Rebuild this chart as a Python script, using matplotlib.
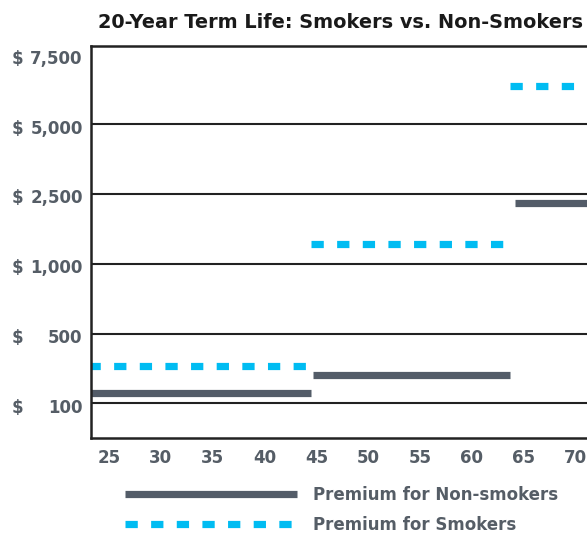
import numpy as np
import matplotlib
matplotlib.use("Agg")
import matplotlib.pyplot as plt
from matplotlib.transforms import blended_transform_factory, ScaledTranslation

# ---- data ----
tick_values = [100, 500, 1000, 2500, 5000, 7500]
tick_labels = ["100", "500", "1,000", "2,500", "5,000", "7,500"]
age_ticks = [25, 30, 35, 40, 45, 50, 55, 60, 65, 70]

nonsmoker_start = [23, 44.7, 64.2]
nonsmoker_end = [44.5, 63.7, 80]
nonsmoker_premium = [158, 265, 2300]

smoker_start = [23, 44.5, 63.7]
smoker_end = [44.5, 63.8, 80]
smoker_premium = [313, 1424, 6375]

title = "20-Year Term Life: Smokers vs. Non-Smokers"
label_non = "Premium for Non-smokers"
label_smk = "Premium for Smokers"

# ---- custom equally spaced y scale ----
tv = np.array(tick_values, float)
tp = np.arange(len(tv), dtype=float)

def fwd(v):
    v = np.asarray(v, float)
    out = np.interp(v, tv, tp)
    lo = (v - tv[0]) / (tv[1] - tv[0])
    hi = tp[-1] + (v - tv[-1]) / (tv[-1] - tv[-2])
    return np.where(v < tv[0], lo, np.where(v > tv[-1], hi, out))

def inv(p):
    p = np.asarray(p, float)
    out = np.interp(p, tp, tv)
    lo = tv[0] + p * (tv[1] - tv[0])
    hi = tv[-1] + (p - tp[-1]) * (tv[-1] - tv[-2])
    return np.where(p < 0, lo, np.where(p > tp[-1], hi, out))

GRAY = "#535c68"
CYAN = "#00bcf2"
TXT = "#555d66"
FONT = "DejaVu Sans"

fig = plt.figure(figsize=(5.87, 5.35), dpi=100)
ax = fig.add_axes([91/587, 1-437.5/535, (589-91)/587, (437.5-46)/535])
ax.set_yscale("function", functions=(fwd, inv))

for s, e, v in zip(nonsmoker_start, nonsmoker_end, nonsmoker_premium):
    ln_non, = ax.plot([s, e], [v, v], color=GRAY, lw=5.2, solid_capstyle="butt", label=label_non)
for s, e, v in zip(smoker_start, smoker_end, smoker_premium):
    ln_smk, = ax.plot([s, e], [v, v], color=CYAN, lw=5.2, dashes=(1.7, 1.85),
                      dash_capstyle="butt", label=label_smk)

ax.set_xlim(23.26, 71.3)
ax.set_ylim(float(inv(-0.49)), float(inv(5.12)))

ax.set_yticks(tick_values)
ax.set_yticklabels(tick_labels)
ax.set_xticks(age_ticks)
ax.set_xticklabels([str(a) for a in age_ticks])
ax.yaxis.set_minor_locator(matplotlib.ticker.NullLocator())
ax.tick_params(axis="both", length=0, colors=TXT, labelsize=12)
ax.tick_params(axis="y", pad=6)
ax.tick_params(axis="x", pad=8.5)
shift = ScaledTranslation(0, -2.5/100, fig.dpi_scale_trans)
for lab in ax.get_xticklabels() + ax.get_yticklabels():
    lab.set_fontweight("bold")
    lab.set_family(FONT)
for lab in ax.get_yticklabels():
    lab.set_transform(lab.get_transform() + shift)

ax.grid(axis="y", color="#222222", lw=1.5)
ax.yaxis.get_gridlines()[-1].set_visible(False)
ax.set_axisbelow(True)
for side in ["left", "bottom", "top", "right"]:
    ax.spines[side].set_color("#222222")
    ax.spines[side].set_linewidth(1.8)

# dollar signs
tr = blended_transform_factory(fig.transFigure, ax.transData) + shift
for v in tick_values:
    ax.text(12/587, v, "$", transform=tr, ha="left", va="center_baseline", color=TXT,
            fontsize=12, fontweight="bold", family=FONT)

ax.set_title(title, fontsize=13.9, fontweight="bold", color="#1a1a1a", pad=13, family=FONT)

fig.legend(handles=[ln_non, ln_smk], labels=[label_non, label_smk],
           loc="center left", bbox_to_anchor=(125/587, 1-510/535),
           frameon=False, borderpad=0, borderaxespad=0,
           handlelength=10.3, handletextpad=1.0, labelspacing=0.75,
           prop={"family": FONT, "weight": "bold", "size": 12},
           labelcolor=TXT)

fig.savefig("out.png", dpi=100)
